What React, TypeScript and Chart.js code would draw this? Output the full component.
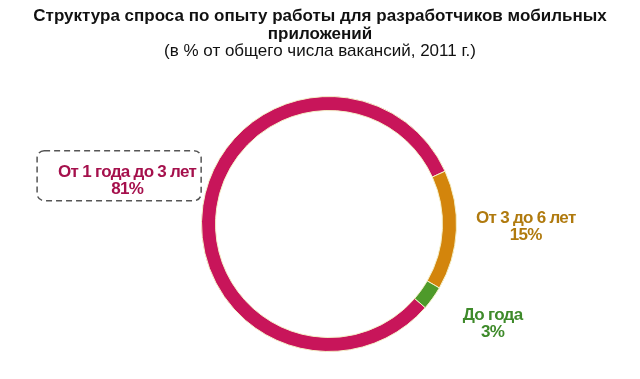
import React, { useEffect, useRef } from "react";
import { Chart, registerables } from "chart.js";

Chart.register(...registerables);

const categories = ["От 1 года до 3 лет", "От 3 до 6 лет", "До года"];
const values = [81, 15, 3];
const valueLabels = ["81%", "15%", "3%"];
const colors = ["#C8155A", "#D3850C", "#4E9A2A"];
const labelColors = ["#A5104C", "#B07A0E", "#3E8A2A"];
const titleLines = ["Структура спроса по опыту работы для разработчиков мобильных", "приложений"];
const subtitle = "(в % от общего числа вакансий, 2011 г.)";

const labelPlugin = {
  id: "customLabels",
  afterDraw(chart: any) {
    const ctx = chart.ctx as CanvasRenderingContext2D;
    ctx.save();
    ctx.textAlign = "center";
    ctx.textBaseline = "alphabetic";
    // title
    ctx.fillStyle = "#111";
    (ctx as any).letterSpacing = "0px";
    ctx.font = "bold 17px 'Liberation Sans', Arial, sans-serif";
    ctx.fillText(titleLines[0], 320, 21);
    ctx.fillText(titleLines[1], 320, 39);
    ctx.font = "17px 'Liberation Sans', Arial, sans-serif";
    ctx.fillText(subtitle, 320, 56);

    const meta = chart.getDatasetMeta(0);
    const factors = [1.6, 1.545, 1.49];
    const xAdj = [0, 0, 9];
    const yAdj = [-18, -11, -14];
    meta.data.forEach((arc: any, i: number) => {
      const p = arc.getProps(["x", "y", "startAngle", "endAngle", "outerRadius"], true);
      const mid = (p.startAngle + p.endAngle) / 2;
      const r = p.outerRadius * factors[i];
      const cx = p.x + Math.cos(mid) * r + xAdj[i];
      const cy = p.y + Math.sin(mid) * r + yAdj[i];
      (ctx as any).letterSpacing = "-0.7px";
      ctx.font = "bold 17px 'Liberation Sans', Arial, sans-serif";
      ctx.fillStyle = labelColors[i];
      ctx.fillText(categories[i], cx, cy);
      ctx.fillText(valueLabels[i], cx, cy + 17);
      if (i === 0) {
        const w = ctx.measureText(categories[i]).width;
        const x0 = cx - w / 2 - 21;
        const x1 = cx + w / 2 + 5;
        const y0 = cy - 26;
        const y1 = cy + 24;
        ctx.setLineDash([6, 4]);
        ctx.lineWidth = 1.5;
        ctx.strokeStyle = "#555";
        ctx.beginPath();
        (ctx as any).roundRect(x0, y0, x1 - x0, y1 - y0, 7);
        ctx.stroke();
        ctx.setLineDash([]);
      }
    });
    ctx.restore();
  },
};

export default function App() {
  const ref = useRef<HTMLCanvasElement>(null);
  useEffect(() => {
    document.body.style.margin = "0";
    const chart = new Chart(ref.current!, {
      type: "doughnut",
      data: {
        labels: categories,
        datasets: [
          {
            data: values,
            backgroundColor: colors,
            borderColor: "#F4F0C8",
            borderWidth: 1,
          },
        ],
      },
      options: {
        responsive: false,
        animation: false,
        rotation: 131,
        cutout: "89%",
        layout: { padding: { top: 96, bottom: 27, left: 18, right: 0 } },
        plugins: { legend: { display: false }, tooltip: { enabled: false }, title: { display: false } },
      },
      plugins: [labelPlugin],
    });
    return () => chart.destroy();
  }, []);
  return (
    <div style={{ width: 640, height: 379, background: "#fff" }}>
      <canvas ref={ref} width={640} height={379} />
    </div>
  );
}
